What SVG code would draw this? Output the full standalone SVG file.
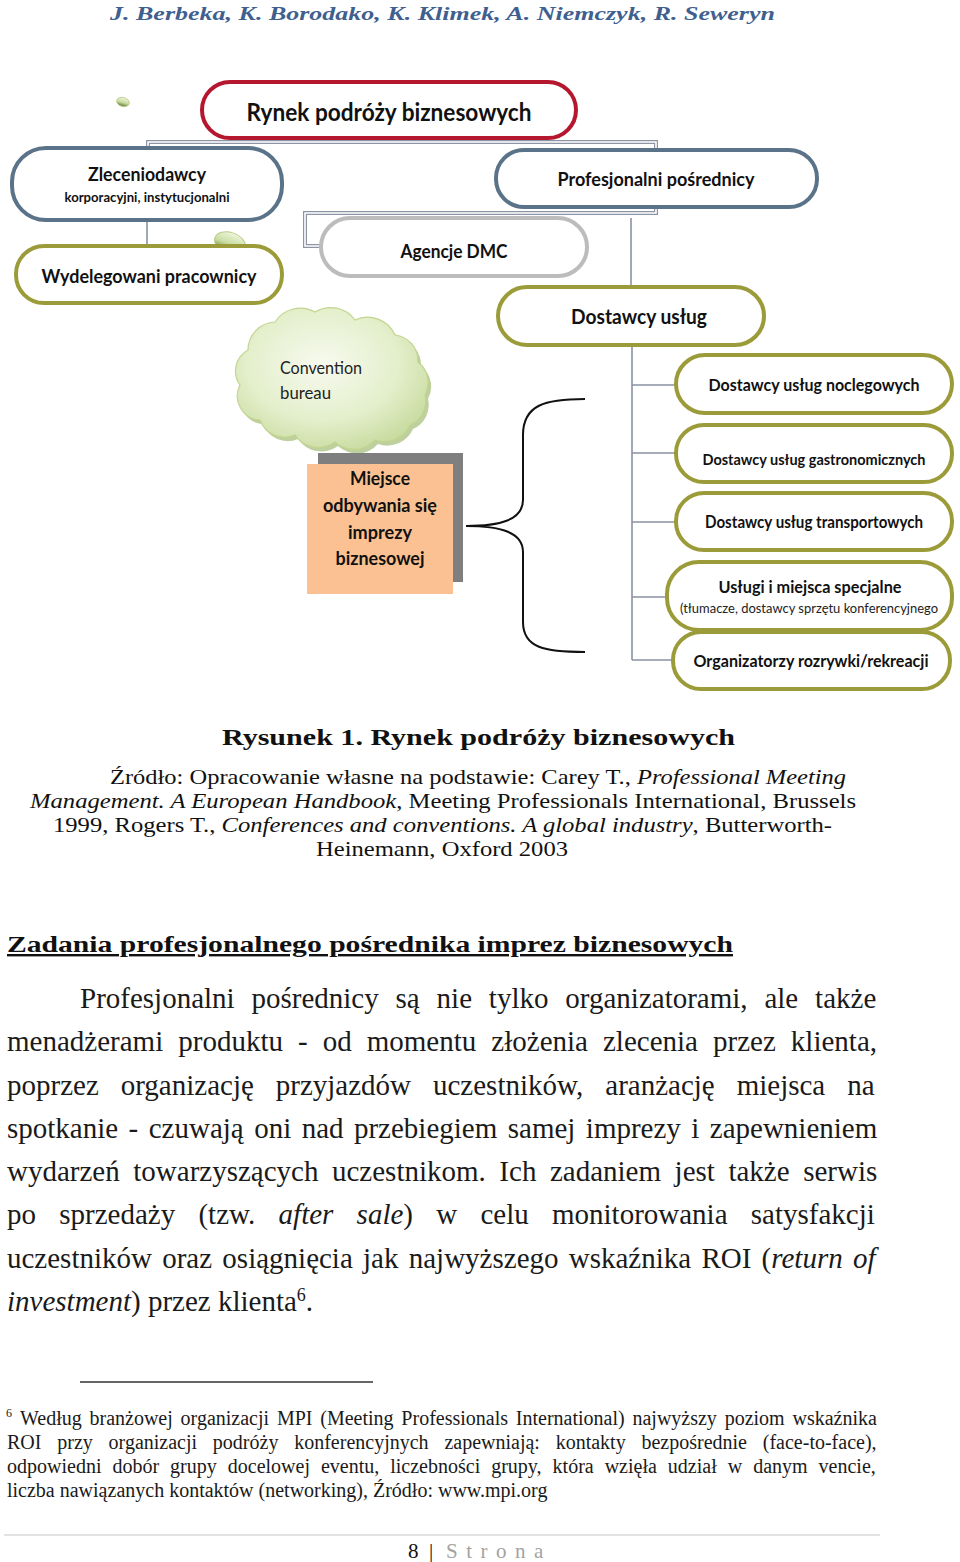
<svg xmlns="http://www.w3.org/2000/svg" width="960" height="1562" viewBox="0 0 960 1562">
<style>
.node{fill:#ffffff;stroke-width:4}
.red{stroke:#b5172f}
.slate{stroke:#5a7389}
.olive{stroke:#9c9b3a}
.grey{stroke:#bcbcbc}
.nt{font-family:Lato,"Open Sans","Noto Sans",sans-serif;font-weight:bold;fill:#111111;text-anchor:middle}
.ntr{font-family:Lato,"Open Sans","Noto Sans",sans-serif;fill:#222222}
.con{fill:none;stroke:#8a91a3;stroke-width:1.6}
.dbl{fill:none;stroke:#8d94a6;stroke-width:4}
.dbli{fill:none;stroke:#ffffff;stroke-width:1.6}
.serif{font-family:"Liberation Serif","Times New Roman",serif;fill:#111111}
.para{font-family:"Liberation Serif","Times New Roman",serif;font-size:29px;fill:#1a1a1a}
.fn{font-family:"Liberation Serif","Times New Roman",serif;font-size:20px;fill:#1a1a1a}
</style>
<defs>
<radialGradient id="cloudG" cx="0.45" cy="0.4" r="0.65">
<stop offset="0" stop-color="#f7faef"/>
<stop offset="0.6" stop-color="#e4efcc"/>
<stop offset="1" stop-color="#c7db9e"/>
</radialGradient>
<linearGradient id="bubG" x1="0" y1="0" x2="0" y2="1">
<stop offset="0" stop-color="#eef5dd"/>
<stop offset="0.55" stop-color="#c9dca0"/>
<stop offset="1" stop-color="#5e7a34"/>
</linearGradient>
</defs>
<rect width="960" height="1562" fill="#ffffff"/>

<text x="110" y="20" class="serif" font-size="19" font-weight="bold" font-style="italic" style="fill:#3f5f8f" textLength="665" lengthAdjust="spacingAndGlyphs">J. Berbeka, K. Borodako, K. Klimek, A. Niemczyk, R. Seweryn</text>

<g id="connectors">
<path class="dbl" d="M148,148 V142 H656 V150"/>
<path class="dbli" d="M148,148 V142 H656 V150"/>
<path class="dbl" d="M656,207 V213 H305 V246 H321"/>
<path class="dbli" d="M656,207 V213 H305 V246 H321"/>
<path class="con" d="M147,220 V246"/>
<path class="con" d="M631,218 V287"/>
<path class="con" d="M632,345 V660"/>
<path class="con" d="M632,385 H676 M632,453 H676 M632,522 H676 M632,597 H667 M632,660 H673"/>
<path d="M585,399 C545,399 523,405 523,435 L523,500 C523,520 500,526 466,526 C500,526 523,532 523,552 L523,622 C523,648 545,652 585,652" fill="none" stroke="#111111" stroke-width="2"/>
</g>

<g id="bubbles">
<ellipse cx="123" cy="102" rx="6.5" ry="4.5" transform="rotate(15 123 102)" fill="url(#bubG)" stroke="#b9cc86" stroke-width="0.8"/>
<ellipse cx="230" cy="243" rx="16" ry="10.5" transform="rotate(20 230 243)" fill="url(#bubG)" stroke="#b9cc86" stroke-width="1"/>
</g>

<g id="n-rynek">
<rect class="node red" x="202" y="82" width="374" height="56" rx="28"/>
<text class="nt" x="389" y="121" font-size="25" textLength="285" lengthAdjust="spacingAndGlyphs">Rynek podróży biznesowych</text>
</g>

<g id="n-zleceniodawcy">
<rect class="node slate" x="12" y="148" width="270" height="72" rx="34"/>
<text class="nt" x="147" y="181" font-size="19" textLength="118" lengthAdjust="spacingAndGlyphs">Zleceniodawcy</text>
<text class="nt" x="147" y="202" font-size="13" textLength="165" lengthAdjust="spacingAndGlyphs">korporacyjni, instytucjonalni</text>
</g>

<g id="n-profesjonalni">
<rect class="node slate" x="496" y="150" width="321" height="57" rx="28"/>
<text class="nt" x="656" y="186" font-size="19" textLength="197" lengthAdjust="spacingAndGlyphs">Profesjonalni pośrednicy</text>
</g>

<g id="n-wydelegowani">
<rect class="node olive" x="16" y="246" width="266" height="57" rx="28"/>
<text class="nt" x="149" y="283" font-size="19" textLength="215" lengthAdjust="spacingAndGlyphs">Wydelegowani pracownicy</text>
</g>

<g id="n-dmc">
<rect class="node grey" x="321" y="218" width="266" height="58" rx="29"/>
<text class="nt" x="454" y="258" font-size="19" textLength="107" lengthAdjust="spacingAndGlyphs">Agencje DMC</text>
</g>

<g id="n-dostawcy">
<rect class="node olive" x="498" y="287" width="266" height="58" rx="29"/>
<text class="nt" x="639" y="324" font-size="20" textLength="136" lengthAdjust="spacingAndGlyphs">Dostawcy usług</text>
</g>

<g id="n-convention">
<path transform="translate(3,4)" fill="#a3bc74" opacity="0.7" d="M240,385 A24,24 0 0 1 248,350 A28,28 0 0 1 275,322 A30,30 0 0 1 315,312 A30,30 0 0 1 355,320 A30,30 0 0 1 395,335 A26,26 0 0 1 418,362 A26,26 0 0 1 425,395 A26,26 0 0 1 410,425 A28,28 0 0 1 375,440 A28,28 0 0 1 335,442 A28,28 0 0 1 295,435 A26,26 0 0 1 260,420 A24,24 0 0 1 240,385 Z"/>
<path fill="url(#cloudG)" stroke="#c3d48f" stroke-width="1.2" d="M240,385 A24,24 0 0 1 248,350 A28,28 0 0 1 275,322 A30,30 0 0 1 315,312 A30,30 0 0 1 355,320 A30,30 0 0 1 395,335 A26,26 0 0 1 418,362 A26,26 0 0 1 425,395 A26,26 0 0 1 410,425 A28,28 0 0 1 375,440 A28,28 0 0 1 335,442 A28,28 0 0 1 295,435 A26,26 0 0 1 260,420 A24,24 0 0 1 240,385 Z"/>
<text class="ntr" x="280" y="374" font-size="17" textLength="82" lengthAdjust="spacingAndGlyphs">Convention</text>
<text class="ntr" x="280" y="399" font-size="17" textLength="51" lengthAdjust="spacingAndGlyphs">bureau</text>
</g>

<g id="n-miejsce">
<rect x="318" y="453" width="145" height="129" fill="#7f7f7f"/>
<rect x="307" y="464" width="146" height="130" fill="#fbc192"/>
<text class="nt" x="380" y="485" font-size="19" textLength="60" lengthAdjust="spacingAndGlyphs">Miejsce</text>
<text class="nt" x="380" y="512" font-size="19" textLength="114" lengthAdjust="spacingAndGlyphs">odbywania się</text>
<text class="nt" x="380" y="539" font-size="19" textLength="64" lengthAdjust="spacingAndGlyphs">imprezy</text>
<text class="nt" x="380" y="565" font-size="19" textLength="89" lengthAdjust="spacingAndGlyphs">biznesowej</text>
</g>

<g id="n-noclegowych">
<rect class="node olive" x="676" y="355" width="276" height="58" rx="29"/>
<text class="nt" x="814" y="391" font-size="17" textLength="211" lengthAdjust="spacingAndGlyphs">Dostawcy usług noclegowych</text>
</g>

<g id="n-gastronomicznych">
<rect class="node olive" x="676" y="425" width="276" height="57" rx="28"/>
<text class="nt" x="814" y="465" font-size="15.5" textLength="223" lengthAdjust="spacingAndGlyphs">Dostawcy usług gastronomicznych</text>
</g>

<g id="n-transportowych">
<rect class="node olive" x="676" y="493" width="276" height="57" rx="28"/>
<text class="nt" x="814" y="528" font-size="16.5" textLength="218" lengthAdjust="spacingAndGlyphs">Dostawcy usług transportowych</text>
</g>

<g id="n-uslugi">
<rect class="node olive" x="667" y="562" width="285" height="68" rx="32"/>
<text class="nt" x="810" y="593" font-size="17" textLength="183" lengthAdjust="spacingAndGlyphs">Usługi i miejsca specjalne</text>
<text class="ntr" x="809" y="613" font-size="13" textLength="258" lengthAdjust="spacingAndGlyphs" style="text-anchor:middle">(tłumacze, dostawcy sprzętu konferencyjnego</text>
</g>

<g id="n-organizatorzy">
<rect class="node olive" x="673" y="632" width="277" height="57" rx="28"/>
<text class="nt" x="811" y="667" font-size="17" textLength="235" lengthAdjust="spacingAndGlyphs">Organizatorzy rozrywki/rekreacji</text>
</g>

<text x="222" y="745" class="serif" font-size="24" font-weight="bold" textLength="513" lengthAdjust="spacingAndGlyphs">Rysunek 1. Rynek podróży biznesowych</text>

<g class="serif" font-size="21">
<text x="110" y="784" textLength="736" lengthAdjust="spacingAndGlyphs">Źródło: Opracowanie własne na podstawie: Carey T., <tspan font-style="italic">Professional Meeting</tspan></text>
<text x="30" y="808" textLength="826" lengthAdjust="spacingAndGlyphs"><tspan font-style="italic">Management. A European Handbook</tspan>, Meeting Professionals International, Brussels</text>
<text x="53" y="832" textLength="779" lengthAdjust="spacingAndGlyphs">1999, Rogers T., <tspan font-style="italic">Conferences and conventions. A global industry</tspan>, Butterworth-</text>
<text x="316" y="856" textLength="252" lengthAdjust="spacingAndGlyphs">Heinemann, Oxford 2003</text>
</g>

<text x="7" y="952" class="serif" font-size="24" font-weight="bold" text-decoration="underline" textLength="726" lengthAdjust="spacingAndGlyphs">Zadania profesjonalnego pośrednika imprez biznesowych</text>

<g class="para">
<text x="80" y="1008" word-spacing="9.6">Profesjonalni pośrednicy są nie tylko organizatorami, ale także</text>
<text x="7" y="1051" word-spacing="7.8">menadżerami produktu - od momentu złożenia zlecenia przez klienta,</text>
<text x="7" y="1095" word-spacing="14.7">poprzez organizację przyjazdów uczestników, aranżację miejsca na</text>
<text x="7" y="1138" word-spacing="3.2">spotkanie - czuwają oni nad przebiegiem samej imprezy i zapewnieniem</text>
<text x="7" y="1181" word-spacing="6.3">wydarzeń towarzyszących uczestnikom. Ich zadaniem jest także serwis</text>
<text x="7" y="1224" word-spacing="16">po sprzedaży (tzw. <tspan font-style="italic">after sale</tspan>) w celu monitorowania satysfakcji</text>
<text x="7" y="1268" word-spacing="3">uczestników oraz osiągnięcia jak najwyższego wskaźnika ROI (<tspan font-style="italic">return of</tspan></text>
<text x="7" y="1311"><tspan font-style="italic">investment</tspan>) przez klienta<tspan font-size="18" dy="-10">6</tspan><tspan dy="10">.</tspan></text>
</g>

<line x1="80" y1="1382" x2="373" y2="1382" stroke="#333333" stroke-width="1.5"/>

<g class="fn">
<text x="6" y="1417" font-size="12">6</text>
<text x="20" y="1425" word-spacing="2.8">Według branżowej organizacji MPI (Meeting Professionals International) najwyższy poziom wskaźnika</text>
<text x="7" y="1449" word-spacing="10.8">ROI przy organizacji podróży konferencyjnych zapewniają: kontakty bezpośrednie (face-to-face),</text>
<text x="7" y="1473" word-spacing="6">odpowiedni dobór grupy docelowej eventu, liczebności grupy, która wzięła udział w danym vencie,</text>
<text x="7" y="1497">liczba nawiązanych kontaktów (networking), Źródło: www.mpi.org</text>
</g>

<line x1="4" y1="1535" x2="880" y2="1535" stroke="#e2e2e2" stroke-width="2"/>
<text x="408" y="1558" class="serif" font-size="21">8</text>
<text x="429" y="1558" class="serif" font-size="21">|</text>
<text x="446" y="1558" class="serif" font-size="21" letter-spacing="8.5" style="fill:#a3a3a3">Strona</text>
</svg>
